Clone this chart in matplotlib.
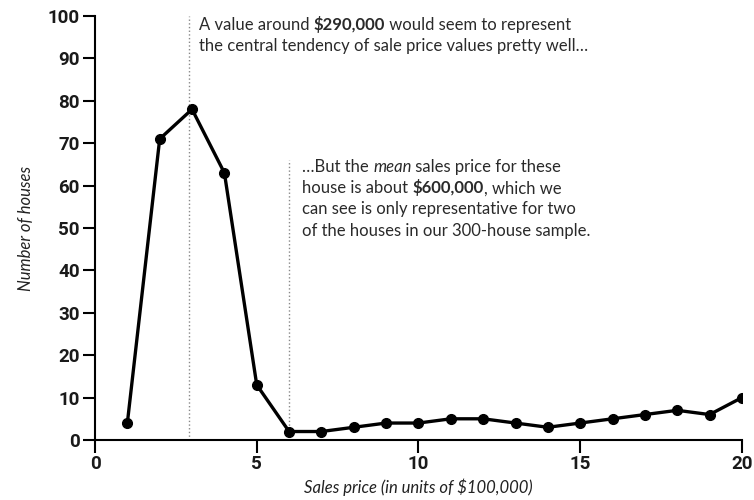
import matplotlib
matplotlib.use("Agg")
import matplotlib.pyplot as plt

plt.rcParams['font.family'] = ['Lato', 'DejaVu Sans']

# sale price in units of $100,000 and number of houses in each bin
price = [1, 2, 3, 4, 5, 6, 7, 8, 9, 10, 11, 12, 13, 14, 15, 16, 17, 18, 19, 20]
houses = [4, 71, 78, 63, 13, 2, 2, 3, 4, 4, 5, 5, 4, 3, 4, 5, 6, 7, 6, 10]

x_ticks = [0, 5, 10, 15, 20]
y_ticks = [0, 10, 20, 30, 40, 50, 60, 70, 80, 90, 100]

median_price = 2.9
mean_price = 6.0
mean_line_top = 66

fig = plt.figure(figsize=(7.54, 5), dpi=100)
ax = fig.add_axes([0.126, 0.12, 0.858, 0.848])

ax.axvline(median_price, color='#888888', lw=1, ls=':', zorder=1)
ax.plot([mean_price, mean_price], [0, mean_line_top], color='#888888', lw=1, ls=':', zorder=1)

ax.plot(price, houses, color='black', lw=2.4, marker='o', markersize=7, zorder=3)

ax.set_xlim(0, 20)
ax.set_ylim(0, 100)
for s in ['top', 'right']:
    ax.spines[s].set_visible(False)
for s in ['left', 'bottom']:
    ax.spines[s].set_linewidth(1.5)
ax.tick_params(direction='out', length=9, width=1.5, pad=2)
tick_font = dict(fontsize=13.5, fontweight='bold', family=['Roboto', 'DejaVu Sans'],
                 color='#1a1a1a')
ax.set_xticks(x_ticks, labels=[str(t) for t in x_ticks], **tick_font)
ax.set_yticks(y_ticks, labels=[str(t) for t in y_ticks], **tick_font)

ax.set_xlabel('Sales price (in units of $100,000)', style='italic', fontsize=12,
              labelpad=4, color='#222222')
ax.set_ylabel('Number of houses', style='italic', fontsize=12, labelpad=10,
              color='#222222')


def rich_line(x, y, parts, size=12):
    prev = None
    for txt, weight, style in parts:
        if prev is None:
            prev = ax.text(x, y, txt, fontsize=size, fontweight=weight, style=style,
                           ha='left', va='bottom', color='#2a2a2a')
        else:
            prev = ax.annotate(txt, xy=(1, 0), xycoords=prev, fontsize=size,
                               fontweight=weight, style=style, ha='left', va='bottom',
                               color='#2a2a2a')


n = 'normal'
rich_line(3.2, 96.0, [('A value around ', n, n), ('$290,000', 'bold', n),
                      (' would seem to represent', n, n)])
rich_line(3.2, 91.0, [('the central tendency of sale price values pretty well\u2026', n, n)])

rich_line(6.4, 62.5, [('\u2026But the ', n, n), ('mean', n, 'italic'),
                      (' sales price for these', n, n)])
rich_line(6.4, 57.5, [('house is about ', n, n), ('$600,000', 'bold', n),
                      (', which we', n, n)])
rich_line(6.4, 52.5, [('can see is only representative for two', n, n)])
rich_line(6.4, 47.5, [('of the houses in our 300-house sample.', n, n)])

fig.savefig('out.png', dpi=100)
